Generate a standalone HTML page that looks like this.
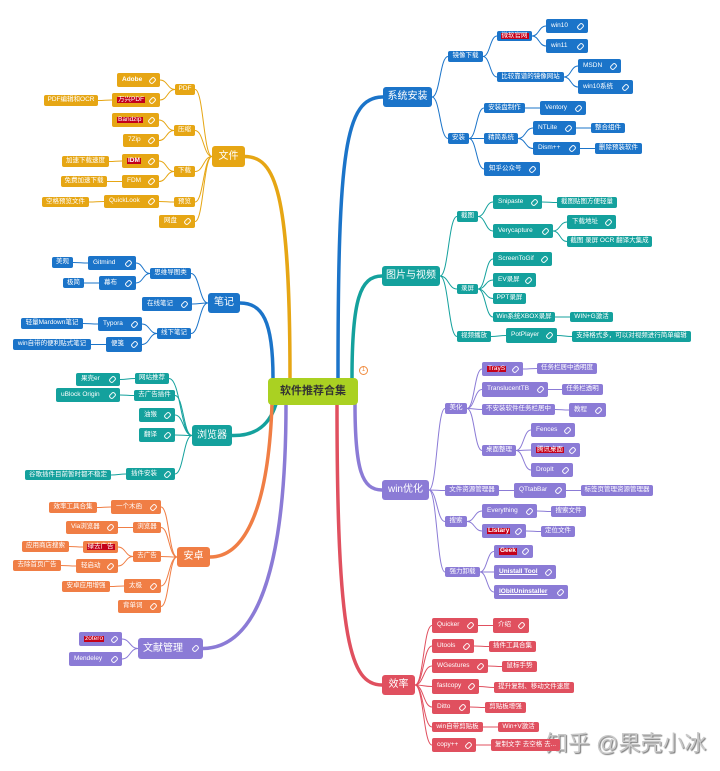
<!DOCTYPE html>
<html><head><meta charset="utf-8">
<style>
html,body{margin:0;padding:0;background:#fff;}
#w{position:relative;width:720px;height:771px;overflow:hidden;font-family:"Liberation Sans","Noto Sans CJK SC",sans-serif;}
.n{position:absolute;box-sizing:border-box;color:#fff;font-size:6.5px;display:flex;align-items:center;justify-content:center;border-radius:2px;white-space:nowrap;padding:0 1px;line-height:1;}
.n.L{justify-content:space-between;padding:0 4px 0 5px;}
.n.M{font-size:10px;border-radius:3px;}
.hl{background:#c4001a;padding:0 1px;}
.u{text-decoration:underline;font-weight:bold;}
.lk{display:inline-block;width:5px;height:3px;border:1px solid rgba(255,255,255,.9);border-radius:2px;transform:rotate(-45deg);margin-left:4px;}
svg{position:absolute;left:0;top:0;}
</style></head><body><div id="w">
<svg id="s" width="720" height="771"></svg>
<div class="n" style="left:268px;top:378px;width:90px;height:27px;background:#aad122;color:#333;font-size:11px;font-weight:bold;border-radius:4px;">软件推荐合集</div>
<div style="position:absolute;left:359px;top:366px;width:7px;height:7px;border:1px solid #f08a3c;border-radius:50%;color:#f08a3c;font-size:6px;line-height:7px;text-align:center;font-family:'Liberation Sans',sans-serif;">1</div>
<div style="position:absolute;left:546px;top:726px;font-size:22px;color:#c8c8c8;text-shadow:1px 1px 1px #777;font-family:'Liberation Sans','Noto Sans CJK SC',sans-serif;">知乎 @果壳小冰</div>
</div>
<script>
var C={b:'#1b74c9',t:'#14a19d',p:'#8b7bd6',r:'#e0505f',y:'#e6a614',o:'#f07e45'};
var T=[
['系统安装',383,87,432,107,'M','b',[338,378,338,150,345,97],[
 ['镜像下载',448,51,483,62,'',[
   ['微软官网',497,31,532,41,'H',[['win10',546,19,588,33,'L'],['win11',546,39,588,53,'L']]],
   ['比较靠谱的镜像网站',497,72,564,82,'',[['MSDN',578,59,621,73,'L'],['win10系统',578,80,633,94,'L']]]]],
 ['安装',448,133,469,144,'',[
   ['安装盘制作',484,103,525,113,'',[['Ventory',540,101,586,115,'L']]],
   ['精简系统',484,133,518,144,'',[['NTLite',533,121,576,135,'L',[['整合组件',591,123,625,133,'']]],['Dism++',533,142,580,155,'L',[['删除预装软件',595,143,642,154,'']]]]],
   ['知乎公众号',484,162,540,176,'L']]]]],
['图片与视频',382,266,440,286,'M','t',[352,378,352,300,360,276],[
 ['截图',457,211,478,222,'',[
   ['Snipaste',493,195,542,209,'L',[['截图贴图方便轻量',557,197,617,208,'']]],
   ['Verycapture',493,224,553,238,'L',[['下载地址',567,215,616,229,'L'],['截图 录屏 OCR 翻译大集成',567,236,652,247,'']]]]],
 ['录屏',457,284,478,294,'',[
   ['ScreenToGif',493,252,552,266,'L'],['EV录屏',493,273,536,287,'L'],['PPT录屏',493,293,526,304,''],
   ['Win系统XBOX录屏',493,312,555,322,'',[['WIN+G激活',570,312,613,322,'']]]]],
 ['视频播放',457,331,491,342,'',[['PotPlayer',506,328,557,343,'L',[['支持格式多，可以对视频进行简单编辑',572,331,691,342,'']]]]]]],
['win优化',382,480,429,500,'M','p',[355,404,355,470,362,490],[
 ['美化',445,403,467,414,'',[
   ['TrayS',482,362,523,376,'LH',[['任务栏居中透明度',537,363,597,374,'']]],
   ['TranslucentTB',482,382,548,397,'L',[['任务栏透明',562,384,603,395,'']]],
   ['不安装软件任务栏居中',482,404,555,415,'',[['教程',569,403,606,417,'L']]],
   ['桌面整理',482,445,516,456,'',[['Fences',531,423,575,437,'L'],['腾讯桌面',531,443,580,457,'LH'],['DropIt',531,463,573,477,'L']]]]],
 ['文件资源管理器',445,485,499,496,'',[['QTtabBar',514,483,566,498,'L',[['标签页管理资源管理器',581,485,653,496,'']]]]],
 ['搜索',445,516,467,527,'',[['Everything',482,504,537,518,'L',[['搜索文件',551,506,586,517,'']]],['Listary',482,524,526,538,'LHB',[['定位文件',541,526,575,537,'']]]]],
 ['强力卸载',445,567,480,577,'',[['Geek',494,545,533,558,'LHB'],['Unistall Tool',494,565,556,579,'LU'],['IObitUninstaller',494,585,568,599,'LU']]]]],
['效率',382,675,415,695,'M','r',[337,404,337,640,350,685],[
 ['Quicker',432,618,478,633,'L',[['介绍',493,618,529,633,'L']]],
 ['Utools',432,639,474,653,'L',[['插件工具合集',489,641,536,652,'']]],
 ['WGestures',432,659,488,673,'L',[['鼠标手势',502,661,537,672,'']]],
 ['fastcopy',432,679,479,694,'L',[['提升复制、移动文件速度',494,682,574,693,'']]],
 ['Ditto',432,700,470,714,'L',[['剪贴板增强',485,702,526,713,'']]],
 ['win自带剪贴板',432,722,483,732,'',[['Win+V激活',498,722,539,732,'']]],
 ['copy++',432,738,476,752,'L',[['复制文字 去空格 去...',491,739,560,751,'']]]]],
['文件',212,146,245,167,'M','y',[290,378,290,190,275,157],[
 ['PDF',175,84,195,95,'',[['Adobe',117,73,160,87,'LB'],['万兴PDF',112,93,160,107,'LH',[['PDF编辑和OCR',44,95,98,106,'']]]]],
 ['压缩',174,125,195,136,'',[['Bandzip',112,113,159,127,'LH'],['7Zip',123,134,159,147,'L']]],
 ['下载',174,166,195,177,'',[['IDM',122,154,159,168,'LHB',[['加速下载速度',62,156,109,167,'']]],['FDM',122,175,159,188,'L',[['免费加速下载',61,176,107,187,'']]]]],
 ['预览',174,197,195,207,'',[['QuickLook',104,195,159,208,'L',[['空格预览文件',42,197,89,207,'']]]]],
 ['网盘',159,215,195,228,'L']]],
['笔记',208,293,240,313,'M','b',[273,378,273,320,262,303],[
 ['思维导图类',150,268,191,279,'',[['Gitmind',88,256,136,270,'L',[['美观',52,257,73,268,'']]],['幕布',99,276,136,290,'L',[['极简',63,278,84,288,'']]]]],
 ['在线笔记',142,297,192,311,'L'],
 ['线下笔记',157,328,191,339,'',[['Typora',98,317,142,331,'L',[['轻量Mardown笔记',21,318,83,329,'']]],['便笺',106,337,142,352,'L',[['win自带的便利贴式笔记',13,339,91,350,'']]]]]]],
['浏览器',192,425,232,446,'M','t',[276,404,268,430,250,436],[
 ['网站推荐',135,373,169,384,'',[['果壳er',76,373,120,386,'L']]],
 ['去广告插件',134,390,175,401,'',[['uBlock Origin',56,388,120,402,'L']]],
 ['油猴',139,408,175,422,'L'],['翻译',139,428,175,442,'L'],
 ['插件安装',126,468,175,480,'L',[['谷歌插件目前暂时都不稳定',25,470,111,480,'']]]]],
['安卓',177,547,210,567,'M','o',[272,404,268,520,240,557],[
 ['一个木函',111,500,161,514,'L',[['效率工具合集',49,502,97,513,'']]],
 ['浏览器',133,522,161,533,'',[['Via浏览器',66,521,118,534,'L']]],
 ['去广告',133,551,161,562,'',[['绿去广告',83,541,118,553,'H',[['应用商店搜索',22,541,69,552,'']]],['轻启动',76,559,118,573,'L',[['去除首页广告',13,560,61,571,'']]]]],
 ['太极',124,579,161,593,'L',[['安卓应用增强',62,581,110,592,'']]],
 ['背单词',118,600,161,613,'L']]],
['文献管理',138,638,203,659,'ML','p',[286,404,286,600,245,648],[
 ['zotero',79,632,122,646,'LH'],['Mendeley',69,652,122,666,'L']]]
];
var s=document.getElementById('s'),w=document.getElementById('w'),ns='http://www.w3.org/2000/svg';
function P(d,c,sw){var p=document.createElementNS(ns,'path');p.setAttribute('d',d);p.setAttribute('stroke',c);p.setAttribute('stroke-width',sw);p.setAttribute('fill','none');p.setAttribute('stroke-linecap','round');s.appendChild(p);}
function N(n,col){var f=n[5],e=document.createElement('div');e.className='n'+(f.indexOf('L')>=0?' L':'')+(f.indexOf('M')>=0?' M':'');
e.style.cssText+='left:'+n[1]+'px;top:'+n[2]+'px;width:'+(n[3]-n[1])+'px;height:'+(n[4]-n[2])+'px;background:'+col;
var t=document.createElement('span');t.textContent=n[0];if(f.indexOf('H')>=0)t.className='hl';if(f.indexOf('U')>=0)t.className='u';if(f.indexOf('B')>=0)t.style.fontWeight='bold';e.appendChild(t);
if(f.indexOf('L')>=0){var l=document.createElement('span');l.className='lk';e.appendChild(l);}w.appendChild(e);}
function K(p,ch,col){ch.forEach(function(c){var py=(p[2]+p[4])/2,cy=(c[2]+c[4])/2,a,b;
if(c[1]>=p[3]){a=p[3];b=c[1];}else{a=p[1];b=c[3];}var m=(a+b)/2;
P('M'+a+','+py+' C'+m+','+py+' '+m+','+cy+' '+b+','+cy,col,1);N(c,col);var kids=c[6]||[];K(c,kids,col);});}
T.forEach(function(m){var col=C[m[6]],q=m[7],right=m[1]>300,ex=right?m[1]:m[3],ey=(m[2]+m[4])/2;
P('M'+q[0]+','+q[1]+' C'+q[2]+','+q[3]+' '+q[4]+','+q[5]+' '+ex+','+ey,col,3.5);
N([m[0],m[1],m[2],m[3],m[4],m[5]],col);K(m,m[8],col);});
</script>
</body></html>
